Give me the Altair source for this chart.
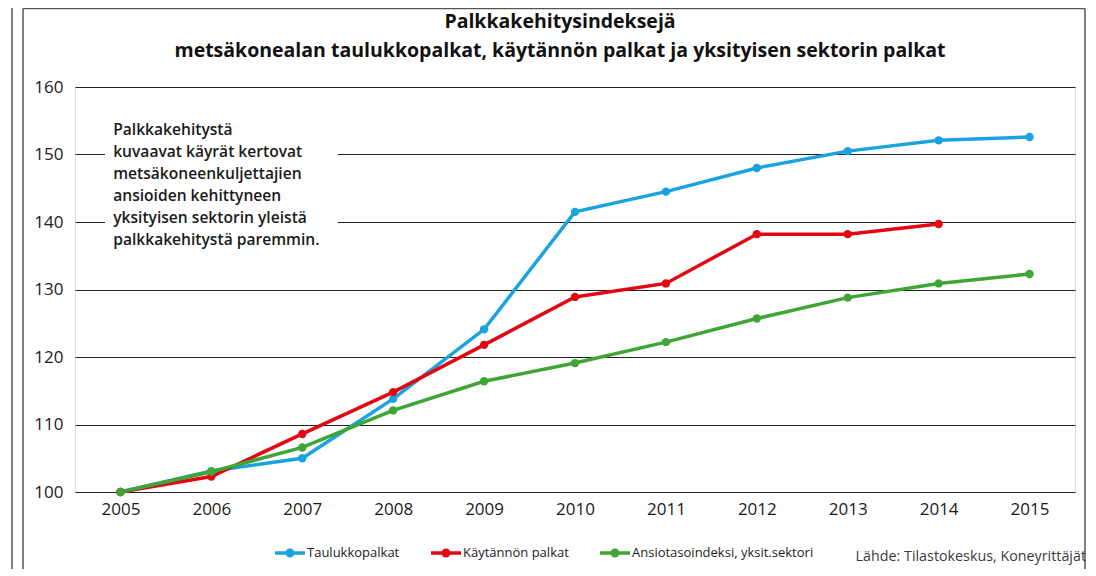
import altair as alt
import pandas as pd

years = list(range(2005, 2016))
taulukko = [100, 103.1, 105.0, 113.8, 124.1, 141.5, 144.5, 148.0, 150.5, 152.1, 152.6]
kaytanto = [100, 102.3, 108.6, 114.8, 121.8, 128.9, 130.9, 138.2, 138.2, 139.7, None]
ansio = [100, 103.0, 106.6, 112.1, 116.4, 119.1, 122.2, 125.7, 128.8, 130.9, 132.3]

series_names = ["Taulukkopalkat", "Käytännön palkat", "Ansiotasoindeksi, yksit.sektori"]
series_colors = ["#1aa3e0", "#e30613", "#3fa535"]

title_line1 = "Palkkakehitysindeksejä"
title_line2 = "metsäkonealan taulukkopalkat, käytännön palkat ja yksityisen sektorin palkat"
note_lines = ["Palkkakehitystä", "kuvaavat käyrät kertovat", "metsäkoneenkuljettajien",
              "ansioiden kehittyneen", "yksityisen sektorin  yleistä", "palkkakehitystä paremmin."]
source_text = "Lähde: Tilastokeskus, Koneyrittäjät"

# annotation box extent in data units
note_box_x = [2004.83, 2007.39]
note_box_y = [134.0, 156.8]
note_pos = [2004.92, 154.7]

rows = []
for name, vals in zip(series_names, [taulukko, kaytanto, ansio]):
    for yr, v in zip(years, vals):
        if v is not None:
            rows.append({"vuosi": yr, "indeksi": v, "sarja": name})
df = pd.DataFrame(rows)

FONT = "Open Sans"

xscale = alt.Scale(domain=[2004.5, 2015.5], nice=False, zero=False)
yscale = alt.Scale(domain=[100, 160], nice=False, zero=False)
color_scale = alt.Scale(domain=series_names, range=series_colors)

symbol_path = ("M-1,-0.11L1,-0.11L1,0.11L-1,0.11Z "
               "M0.3,0A0.3,0.3,0,1,1,-0.3,0A0.3,0.3,0,1,1,0.3,0Z")
legend = alt.Legend(title=None, orient="none", direction="horizontal",
                    legendX=200, legendY=451, symbolType=symbol_path,
                    symbolSize=900, symbolStrokeWidth=0, symbolOpacity=1,
                    labelFont=FONT, labelFontSize=13, labelColor="#222222",
                    labelOffset=2, columnPadding=31, labelLimit=400)

base = alt.Chart(df)

lines = base.mark_line(strokeWidth=3.5).encode(
    x=alt.X("vuosi:Q", scale=xscale,
            axis=alt.Axis(values=years, format="d", title=None, grid=False, domain=False,
                          ticks=False, labelFontSize=17, labelFont=FONT, labelColor="#1a1a1a",
                          labelPadding=9)),
    y=alt.Y("indeksi:Q", scale=yscale,
            axis=alt.Axis(values=list(range(100, 161, 10)), title=None, grid=True,
                          gridColor="#222222", gridWidth=1, domain=False, ticks=False,
                          labelFontSize=17, labelFont=FONT, labelColor="#1a1a1a",
                          labelPadding=12)),
    color=alt.Color("sarja:N", scale=color_scale, legend=legend),
    detail="sarja:N",
)

points = base.mark_point(filled=True, size=70, opacity=1).encode(
    x=alt.X("vuosi:Q", scale=xscale),
    y=alt.Y("indeksi:Q", scale=yscale),
    color=alt.Color("sarja:N", scale=color_scale, legend=legend),
)

box_df = pd.DataFrame({"x": [note_box_x[0]], "x2": [note_box_x[1]],
                       "y": [note_box_y[0]], "y2": [note_box_y[1]]})
note_box = alt.Chart(box_df).mark_rect(color="white").encode(
    x=alt.X("x:Q", scale=xscale), x2="x2:Q",
    y=alt.Y("y:Q", scale=yscale), y2="y2:Q",
)

note_df = pd.DataFrame({"x": [note_pos[0]], "y": [note_pos[1]], "t": ["\n".join(note_lines)]})
note = alt.Chart(note_df).mark_text(align="left", baseline="top", font=FONT, fontSize=15.6,
                                    fontWeight=600, lineBreak="\n", lineHeight=22,
                                    color="#1a1a1a").encode(
    x=alt.X("x:Q", scale=xscale), y=alt.Y("y:Q", scale=yscale), text="t:N")

title_df = pd.DataFrame({"t": [title_line1, title_line2], "yy": [-59, -30]})
title = alt.Chart(title_df).mark_text(
    align="center", baseline="alphabetic", font=FONT, fontSize=19.5, fontWeight="bold",
    color="#111111"
).encode(x=alt.value(485), y=alt.Y("yy:Q", scale=None), text="t:N")

src = alt.Chart(pd.DataFrame({"t": [source_text]})).mark_text(
    align="right", baseline="alphabetic", font=FONT, fontSize=14.3, color="#3a3a3a"
).encode(x=alt.value(1011), y=alt.value(474), text="t:N")

frame_df = pd.DataFrame({
    "x": [-52, -63, 1010, -52],
    "x2": [-52, -63, 1010, 1010],
    "y": [-78.5, -80, -78.5, -78.5],
    "y2": [490, 490, 490, -78.5],
})
frame = alt.Chart(frame_df).mark_rule(color="#555555", strokeWidth=1.5).encode(
    x=alt.X("x:Q", scale=None), x2="x2:Q", y=alt.Y("y:Q", scale=None), y2="y2:Q")

chart = alt.layer(note_box, lines, points, note, title, src, frame).properties(
    width=1000, height=405,
    padding={"left": 67, "top": 79, "right": 13, "bottom": 77},
    autosize=alt.AutoSizeParams(type="none"),
).configure_view(stroke=None).configure(background="white")

chart.save("out.html", embed_options={"renderer": "svg", "actions": False})
